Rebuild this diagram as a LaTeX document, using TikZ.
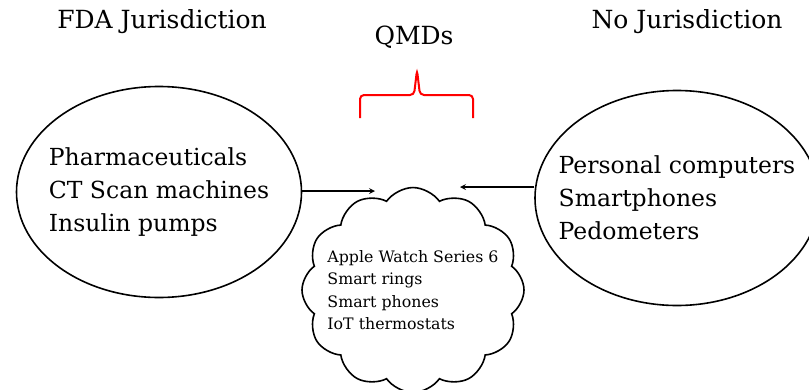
\documentclass[tikz,border=0pt]{standalone}
\usepackage{fontspec}
\setmainfont{DejaVu Serif}
\usepackage{tikz}
\usetikzlibrary{arrows, shapes.symbols, shapes.geometric}

\begin{document}
\begin{tikzpicture}[x=1pt, y=-1pt, line width=1.6pt,
    bigtext/.style={font=\fontsize{23.5}{33}\selectfont, align=left},
    heading/.style={font=\fontsize{25}{30}\selectfont},
    oval/.style={draw, ellipse, inner xsep=-40pt, inner ysep=0pt}]
\useasboundingbox (0,0) rectangle (809,389);

\node[heading] (5) at (162,22) {FDA Jurisdiction};
\node[heading] (6) at (414,37) {QMDs};
\node[heading] (7) at (687,22) {No Jurisdiction};

\node[oval, bigtext, minimum width=285, minimum height=211] (1) at (159,192)
{Pharmaceuticals\\CT Scan machines\\Insulin pumps};

\node[oval, bigtext, minimum width=284, minimum height=215] (2) at (677,198)
{Personal computers\\Smartphones\\Pedometers};

\node[draw, cloud, cloud puffs=12, cloud puff arc=110, aspect=1.1,
      inner xsep=-14pt, inner ysep=-4pt,
      minimum width=222, minimum height=198, align=left,
      font=\fontsize{15.8}{22.5}\selectfont] (3) at (413,290)
{Apple Watch Series 6\\Smart rings\\Smart phones\\IoT thermostats};

\coordinate (a) at (375,191);
\coordinate (b) at (460,187);

\draw[->,>=stealth] (1.east |- a) -- (a);

\draw[->,>=stealth] (2.west |- b) -- (b);

% red brace above the cloud
\draw[red, line width=2pt, rounded corners=4pt]
  (360,118) -- (360,95) -- (414,95) -- (417,70) -- (420,95) -- (473,95) -- (473,118);

\end{tikzpicture}
\end{document}
